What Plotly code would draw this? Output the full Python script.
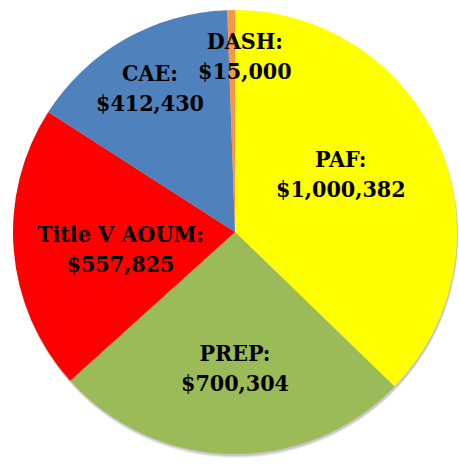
import plotly.graph_objects as go

categories = ["PAF", "PREP", "Title V AOUM", "CAE", "DASH"]
values = [1000382, 700304, 557825, 412430, 15000]
colors = ["#FFFF00", "#9BBB59", "#FF0000", "#4F81BD", "#F79646"]
# label anchor positions in pixels (x, y from top)
label_pos = [(341, 173), (235, 367), (120, 248), (150, 87), (245, 55)]

W, H = 459, 466
cx, cy, r = 235, 232, 222

fig = go.Figure()
fig.add_trace(go.Pie(
    labels=categories, values=values, sort=False, direction="clockwise",
    rotation=0, marker=dict(colors=colors, line=dict(width=0)),
    textinfo="none", hoverinfo="label+value", showlegend=False,
    domain=dict(x=[(cx - r) / W, (cx + r) / W], y=[1 - (cy + r) / H, 1 - (cy - r) / H]),
))

# soft shadow (mostly below)
for off, op in [(4, 0.06), (3, 0.08), (2, 0.10)]:
    fig.add_shape(type="circle", xref="paper", yref="paper", layer="below",
                  x0=(cx - r + 1) / W, x1=(cx + r + 1) / W,
                  y0=1 - (cy + r + off) / H, y1=1 - (cy - r + off) / H,
                  fillcolor=f"rgba(0,0,0,{op})", line=dict(width=0))

for cat, val, (px, py) in zip(categories, values, label_pos):
    fig.add_annotation(x=px / W, y=1 - py / H, xref="paper", yref="paper",
                       text=f"{cat}:<br>${val:,}", showarrow=False,
                       font=dict(family="DejaVu Serif Condensed, DejaVu Serif", size=23,
                                 color="black", weight="bold"),
                       align="center", xanchor="center", yanchor="middle")

fig.update_layout(width=W, height=H, margin=dict(l=0, r=0, t=0, b=0),
                  paper_bgcolor="white", plot_bgcolor="white")
fig.write_html("out.html")
